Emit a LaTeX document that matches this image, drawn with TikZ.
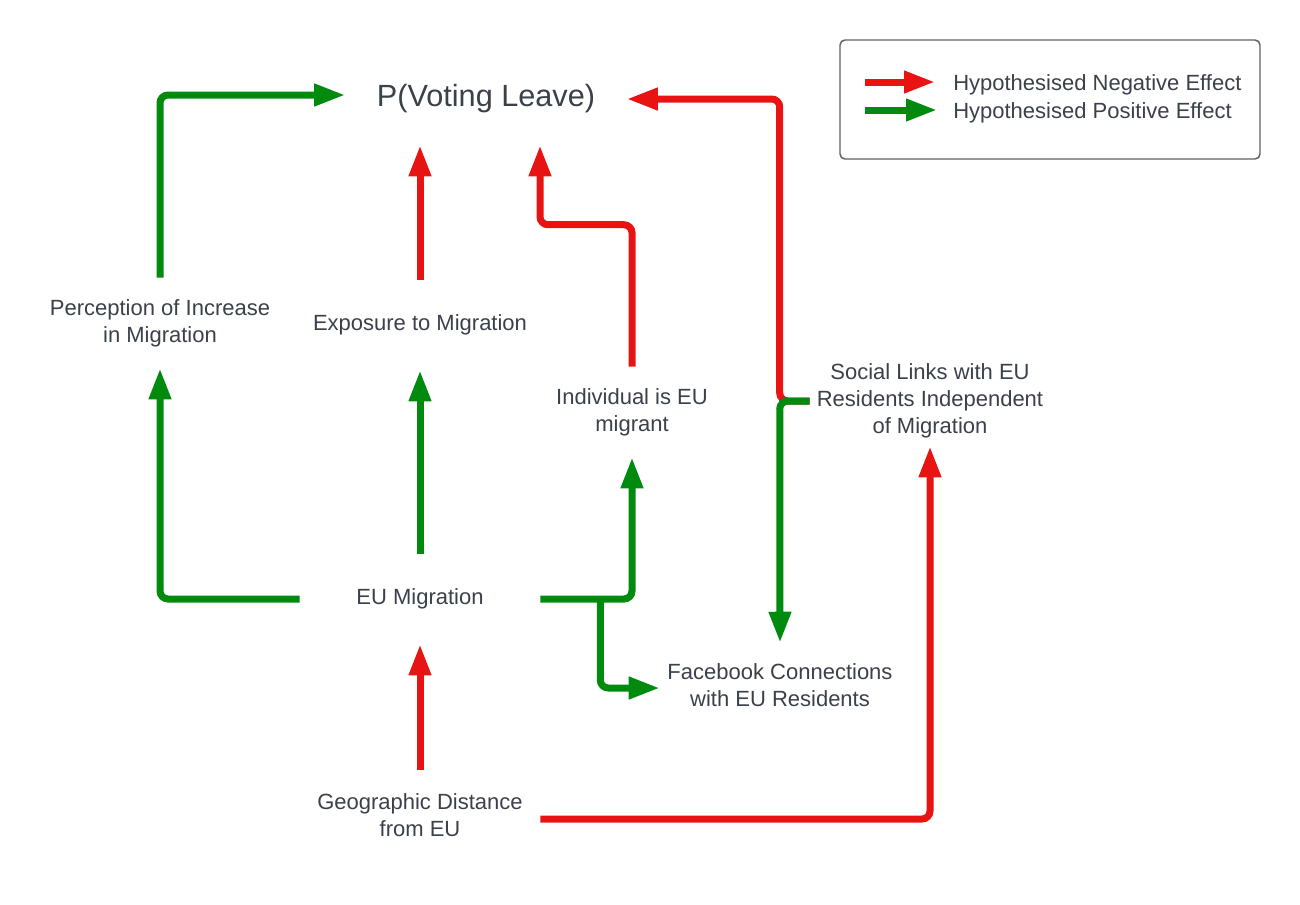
\documentclass[tikz,border=0pt]{standalone}
\usepackage{fontspec}
\setmainfont{Liberation Sans}
\usetikzlibrary{arrows.meta}
\definecolor{negred}{HTML}{E81313}
\definecolor{posgreen}{HTML}{008A0E}
\definecolor{txtgrey}{HTML}{3A414A}
\definecolor{legendgrey}{HTML}{5E6166}
\tikzset{%
  >={Triangle[width=15.75pt,length=23.25pt]},
  % Specifications for style of nodes:
  base/.style = {
    rectangle,
    inner sep=0pt,
    % draw=black,
    text centered,
    text=txtgrey,
    font=\fontsize{16.5}{20.25}\selectfont
  },
  factor/.style = {base, minimum width=180pt, minimum height=67.5pt},
  outcome/.style = {base, minimum width=210.75pt, minimum height=72pt,
                    font=\fontsize{23}{28}\selectfont},
  legendbox/.style = {base, draw=legendgrey, line width=1.1pt,
                      rounded corners=3.75pt,
                      minimum width=315pt, minimum height=89.25pt},
  % Specifications for style of lines:
  negeffect/.style = {->, draw=negred, line width=5.25pt, rounded corners=6pt},
  poseffect/.style = {->, draw=posgreen, line width=5.25pt, rounded corners=6pt},
}

\begin{document}
\begin{tikzpicture}[
  x=0.75pt,
  y=-0.75pt,
  align=center,
  ]
  \useasboundingbox (0,0) rectangle (1300,904);
  % nodes
  \node (pvl) [outcome] at (486,99) {P(Voting Leave)};
  \node (perc) [factor] at (160,323) {Perception of Increase\\in Migration};
  \node (expo) [factor] at (420,325) {Exposure to Migration};
  \node (indiv) [factor] at (632,412) {Individual is EU\\migrant};
  \node (social) [factor] at (930,401) {Social Links with EU\\Residents Independent\\of Migration};
  \node (eum) [factor] at (420,599) {EU Migration};
  \node (fb) [factor] at (780,685) {Facebook Connections\\with EU Residents};
  \node (geo) [factor] at (420,815) {Geographic Distance\\from EU};
  % legend
  \node (legend) [legendbox] at (1050,99.5) {};
  \node (negtxt) [base, anchor=west] at (953,85) {Hypothesised Negative Effect};
  \node (postxt) [base, anchor=west] at (953,113) {Hypothesised Positive Effect};
  \draw[negeffect] ([xshift=-66pt,yshift=2.25pt]negtxt.west) -- ([xshift=-13.5pt,yshift=2.25pt]negtxt.west);
  \draw[poseffect] ([xshift=-66pt,yshift=2.25pt]postxt.west) -- ([xshift=-12pt,yshift=2.25pt]postxt.west);
  % lines
  \draw[poseffect] (perc.north) |- ([yshift=3pt]pvl.west);
  \draw[negeffect] (expo.north) -- ([yshift=1.5pt]expo.north |- pvl.south);
  \draw[negeffect] (indiv.north) -- ++(0,-142) -| ([xshift=40.5pt,yshift=1.5pt]pvl.south);
  \draw[negeffect] (social.west) -- ++(-30,0) |- (pvl.east);
  \draw[poseffect] (social.west) -- ++(-30,0) -- ([yshift=-2.25pt]fb.north);
  \draw[poseffect] (eum.west) -| (perc.south);
  \draw[poseffect] (eum.north) -- (expo.south);
  \draw[poseffect] (eum.east) -| (indiv.south);
  \draw[poseffect] ([xshift=45pt]eum.east) |- ([yshift=-2.25pt]fb.west);
  \draw[negeffect] (geo.north) -- (eum.south);
  \draw[negeffect] ([yshift=-3pt]geo.east) -| (social.south);
\end{tikzpicture}
\end{document}
